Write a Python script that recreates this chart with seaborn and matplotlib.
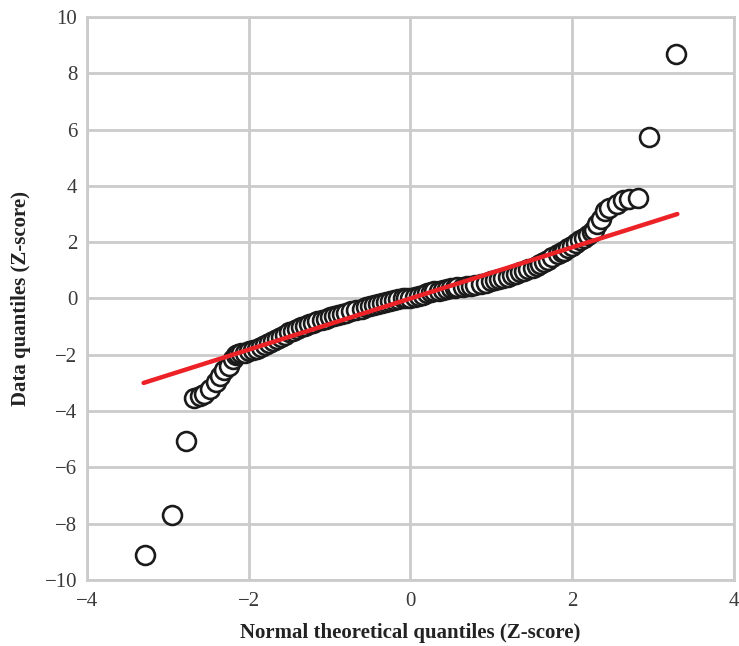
import matplotlib
matplotlib.use("Agg")
import matplotlib.pyplot as plt
import pandas as pd
import seaborn as sns

# theoretical normal quantiles vs observed quantiles
theoretical_q = [
    -3.28, -2.95, -2.78, -2.68, -2.60, -2.55, -2.48, -2.41, -2.35, -2.30,
    -2.25, -2.20, -2.16, -2.13, -2.10, -2.05, -2.00, -1.95, -1.90, -1.85,
    -1.80, -1.75, -1.70, -1.65, -1.60, -1.55, -1.50, -1.45, -1.40, -1.35,
    -1.30, -1.25, -1.21, -1.15, -1.10, -1.05, -1.00, -0.95, -0.90, -0.85,
    -0.80, -0.74, -0.67, -0.60, -0.55, -0.50, -0.45, -0.40, -0.35, -0.30,
    -0.25, -0.20, -0.15, -0.09, -0.05, 0.00, 0.05, 0.10, 0.15, 0.20,
    0.25, 0.29, 0.35, 0.40, 0.45, 0.50, 0.55, 0.58, 0.65, 0.70,
    0.75, 0.80, 0.87, 0.93, 1.00, 1.05, 1.10, 1.15, 1.20, 1.25,
    1.30, 1.35, 1.40, 1.45, 1.52, 1.56, 1.60, 1.65, 1.70, 1.75,
    1.83, 1.87, 1.90, 1.95, 2.00, 2.05, 2.10, 2.15, 2.20, 2.24,
    2.27, 2.31, 2.35, 2.41, 2.45, 2.55, 2.63, 2.70, 2.81, 2.95,
    3.28,
]
data_q = [
    -9.10, -7.70, -5.05, -3.52, -3.45, -3.40, -3.20, -2.98, -2.75, -2.55,
    -2.41, -2.15, -2.00, -1.97, -1.95, -1.92, -1.88, -1.83, -1.78, -1.72,
    -1.66, -1.59, -1.52, -1.45, -1.37, -1.28, -1.20, -1.14, -1.08, -1.03,
    -0.97, -0.92, -0.86, -0.81, -0.76, -0.72, -0.67, -0.64, -0.60, -0.56,
    -0.52, -0.46, -0.41, -0.36, -0.32, -0.28, -0.23, -0.18, -0.15, -0.12,
    -0.09, -0.06, -0.03, 0.00, 0.01, 0.02, 0.06, 0.10, 0.14, 0.18,
    0.22, 0.25, 0.28, 0.31, 0.34, 0.36, 0.38, 0.40, 0.42, 0.44,
    0.46, 0.48, 0.50, 0.56, 0.62, 0.66, 0.70, 0.74, 0.78, 0.83,
    0.88, 0.93, 0.98, 1.04, 1.10, 1.16, 1.22, 1.30, 1.38, 1.47,
    1.58, 1.64, 1.70, 1.79, 1.88, 1.98, 2.08, 2.16, 2.25, 2.35,
    2.45, 2.65, 2.81, 3.10, 3.23, 3.35, 3.50, 3.53, 3.58, 5.72,
    8.68,
]
# reference line endpoints
ref_x = [-3.30, 3.30]
ref_y = [-3.00, 3.00]

x_ticks = [-4, -2, 0, 2, 4]
y_ticks = [-10, -8, -6, -4, -2, 0, 2, 4, 6, 8, 10]

grid_color = "#cbcbcb"
sns.set_style("whitegrid", {"grid.color": grid_color, "axes.edgecolor": grid_color})
plt.rcParams["font.family"] = ["Liberation Serif", "DejaVu Serif"]

points = pd.DataFrame({"theoretical": theoretical_q, "observed": data_q})
line = pd.DataFrame({"x": ref_x, "y": ref_y})

fig = plt.figure(figsize=(7.39, 6.46), dpi=100)
ax = fig.add_axes([0.1177, 0.1022, 0.8755, 0.8715])

sns.scatterplot(
    data=points,
    x="theoretical",
    y="observed",
    ax=ax,
    s=185,
    color="white",
    edgecolor="#1a1a1a",
    linewidth=1.9,
    zorder=3,
)
sns.lineplot(data=line, x="x", y="y", ax=ax, color="#ec2227", linewidth=3.2, zorder=4)

ax.set_xlim(-4, 4)
ax.set_ylim(-10, 10)
ax.set_xticks(x_ticks)
ax.set_yticks(y_ticks)
ax.grid(True, color=grid_color, linewidth=2.0)
ax.set_axisbelow(True)
ax.set_xticklabels([f"{t}".replace("-", "\u2212") for t in x_ticks])
ax.set_yticklabels([f"{t}".replace("-", "\u2212") for t in y_ticks])
ax.tick_params(axis="both", length=0, labelsize=15, colors="#3a3a3a")
ax.tick_params(axis="x", pad=9)
ax.tick_params(axis="y", pad=7)
for sp in ax.spines.values():
    sp.set_linewidth(2.0)
    sp.set_color(grid_color)

ax.set_xlabel("Normal theoretical quantiles (Z-score)", fontsize=15, fontweight="bold",
              color="#222222", labelpad=8)
ax.set_ylabel("Data quantiles (Z-score)", fontsize=15, fontweight="bold",
              color="#222222", labelpad=10)

fig.savefig("out.png", dpi=100)
